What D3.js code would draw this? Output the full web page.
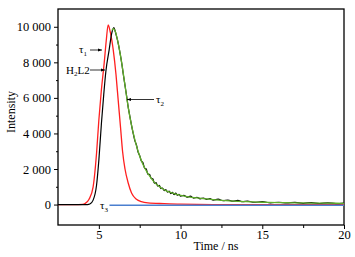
<!DOCTYPE html>
<html><head><meta charset="utf-8">
<script src="https://cdn.jsdelivr.net/npm/d3@7"></script>
<style>
html,body{margin:0;padding:0;background:#fff;}
svg{display:block;}
text{font-family:"Liberation Serif","Times New Roman",serif;fill:#000;}
</style></head>
<body><svg id="c" width="355" height="257"></svg>
<script>
// ---- data ----
const xTicks = [5, 10, 15, 20];
const xMinorTicks = [7.5, 12.5, 17.5];
const yTicks = [0, 2000, 4000, 6000, 8000, 10000];
const yMinorTicks = [1000, 3000, 5000, 7000, 9000];

// red curve
const redT = [2.5, 3.5, 4.0, 4.15, 4.4, 4.65, 4.86, 5.0, 5.15, 5.33, 5.45, 5.57, 5.7, 5.88, 6.05, 6.18, 6.33, 6.45, 6.6, 6.8, 7.0, 7.3, 7.6, 8.0, 9.0, 10.0, 12.0, 20.0];
const redV = [0, 0, 10, 50, 300, 1000, 2900, 4760, 6400, 8000, 9200, 10100, 9700, 8700, 7300, 5900, 4300, 3000, 2000, 1200, 650, 300, 160, 90, 50, 20, 0, 0];

// black curve (measured, noisy)
const blackT = [2.5, 3.5, 4.3, 4.45, 4.65, 4.86, 5.0, 5.16, 5.3, 5.43, 5.63, 5.78, 5.92, 6.0, 6.1, 6.2, 6.3, 6.4, 6.5, 6.6, 6.7, 6.8, 6.9, 7.0, 7.1, 7.2, 7.3, 7.4, 7.5, 7.6, 7.7, 7.8, 7.9, 8.0, 8.1, 8.2, 8.3, 8.4, 8.5, 8.6, 8.7, 8.8, 8.9, 9.0, 9.1, 9.2, 9.3, 9.4, 9.5, 9.6, 9.7, 9.8, 9.9, 10.0, 10.2, 10.4, 10.6, 10.8, 11.0, 11.2, 11.4, 11.6, 11.8, 12.0, 12.3, 12.6, 12.9, 13.2, 13.5, 13.8, 14.1, 14.5, 15.0, 15.5, 16.0, 16.5, 17.0, 17.5, 18.0, 18.5, 19.0, 19.5, 20.0];
const blackV = [0, 0, 0, 30, 250, 1100, 2500, 4600, 6200, 7500, 8700, 9600, 9950, 9750, 9400, 9000, 8500, 7950, 7300, 6700, 6100, 5450, 4950, 4450, 4000, 3600, 3350, 2950, 2750, 2450, 2350, 2050, 2000, 1700, 1700, 1480, 1450, 1200, 1230, 1040, 1080, 900, 930, 780, 840, 700, 760, 620, 680, 560, 640, 530, 580, 470, 520, 410, 470, 360, 410, 320, 370, 290, 330, 250, 300, 220, 250, 190, 230, 160, 190, 130, 160, 100, 130, 90, 120, 70, 110, 60, 100, 55, 85];

// green fit curve (tau2)
const greenT = [5.8, 5.9, 6.0, 6.2, 6.4, 6.6, 6.8, 7.0, 7.2, 7.4, 7.7, 8.0, 8.4, 8.8, 9.2, 9.7, 10.4, 11.0, 12.0, 13.0, 14.0, 15.0, 16.0, 17.0, 18.0, 19.0, 20.0];
const greenV = [9800, 9900, 9750, 9000, 7950, 6700, 5450, 4450, 3650, 3000, 2250, 1750, 1250, 950, 740, 590, 450, 370, 280, 210, 160, 130, 110, 95, 85, 78, 70];

// blue line (tau3)
const blueT = [5.65, 20.0];
const blueV = [-40, -40];

// ---- layout ----
const svg = d3.select("#c");
const L = 58, R = 344, T = 9, B = 225;
const x = d3.scaleLinear().domain([2.5, 20]).range([L, R]);
const y = d3.scaleLinear().domain([-1150, 11000]).range([B, T]);

// axes
const gy = svg.append("g").attr("transform", `translate(${L},0)`)
  .call(d3.axisLeft(y).tickValues(yTicks).tickSize(4).tickPadding(3).tickFormat(d => d3.format(",")(d).replace(","," ")));
const gym = svg.append("g").attr("transform", `translate(${L},0)`)
  .call(d3.axisLeft(y).tickValues(yMinorTicks).tickSize(2).tickFormat(""));
const gx = svg.append("g").attr("transform", `translate(0,${B})`)
  .call(d3.axisBottom(x).tickValues(xTicks).tickSize(4).tickPadding(1).tickFormat(d3.format("d")));
const gxm = svg.append("g").attr("transform", `translate(0,${B})`)
  .call(d3.axisBottom(x).tickValues(xMinorTicks).tickSize(3).tickFormat(""));
[gy, gym, gx, gxm].forEach(g => {
  g.select(".domain").remove();
  g.selectAll("line").attr("stroke", "#000").attr("stroke-width", 1);
  g.selectAll("text").attr("font-size", 12.5).attr("font-family", "Liberation Serif, serif");
});

// frame
svg.append("rect").attr("x", L).attr("y", T).attr("width", R - L).attr("height", B - T)
  .attr("fill", "none").attr("stroke", "#000").attr("stroke-width", 1.3);

// curves
svg.append("clipPath").attr("id", "cp").append("rect")
  .attr("x", L).attr("y", T).attr("width", R - L).attr("height", B - T);
const line = d3.line().x(d => x(d[0])).y(d => y(d[1])).curve(d3.curveMonotoneX);
const series = [
  [redT, redV, "#ff1f1f", 1.3],
  [blackT, blackV, "#000000", 1.2],
  [greenT, greenV, "#5fae2a", 1.3],
  [blueT, blueV, "#4a7fcf", 1.6]
];
series.forEach(([t, v, c, w]) => {
  svg.append("path").datum(t.map((d, i) => [d, v[i]]))
    .attr("clip-path", "url(#cp)")
    .attr("fill", "none").attr("stroke", c).attr("stroke-width", w)
    .attr("d", line);
});

// arrow marker
svg.append("defs").append("marker").attr("id", "ah")
  .attr("viewBox", "0 0 10 10").attr("refX", 10).attr("refY", 5)
  .attr("markerWidth", 5).attr("markerHeight", 5).attr("orient", "auto")
  .append("path").attr("d", "M0,1.5 L10,5 L0,8.5 Z").attr("fill", "#000");

function arrow(x1, y1, x2, y2) {
  svg.append("line").attr("x1", x1).attr("y1", y1).attr("x2", x2).attr("y2", y2)
    .attr("stroke", "#000").attr("stroke-width", 0.8).attr("marker-end", "url(#ah)");
}
function label(xx, yy, main, sub, rest) {
  const t = svg.append("text").attr("x", xx).attr("y", yy).attr("font-size", 11);
  t.append("tspan").text(main);
  if (sub) t.append("tspan").attr("font-size", 7).attr("dy", 2.5).text(sub);
  if (rest) t.append("tspan").attr("dy", -2.5).text(rest);
}
label(79, 53, "τ", "1");
arrow(90, 50, 102, 50);
label(66, 73.5, "H", "2", "L2");
arrow(90, 70, 105, 70);
label(156, 103, "τ", "2");
arrow(154, 99.5, 127, 99.5);
label(100, 209, "τ", "3");

// axis titles
svg.append("text").attr("x", 216).attr("y", 250).attr("text-anchor", "middle")
  .attr("font-size", 12).text("Time / ns");
svg.append("text").attr("transform", "translate(15,112) rotate(-90)")
  .attr("text-anchor", "middle").attr("font-size", 12).text("Intensity");
</script></body></html>
